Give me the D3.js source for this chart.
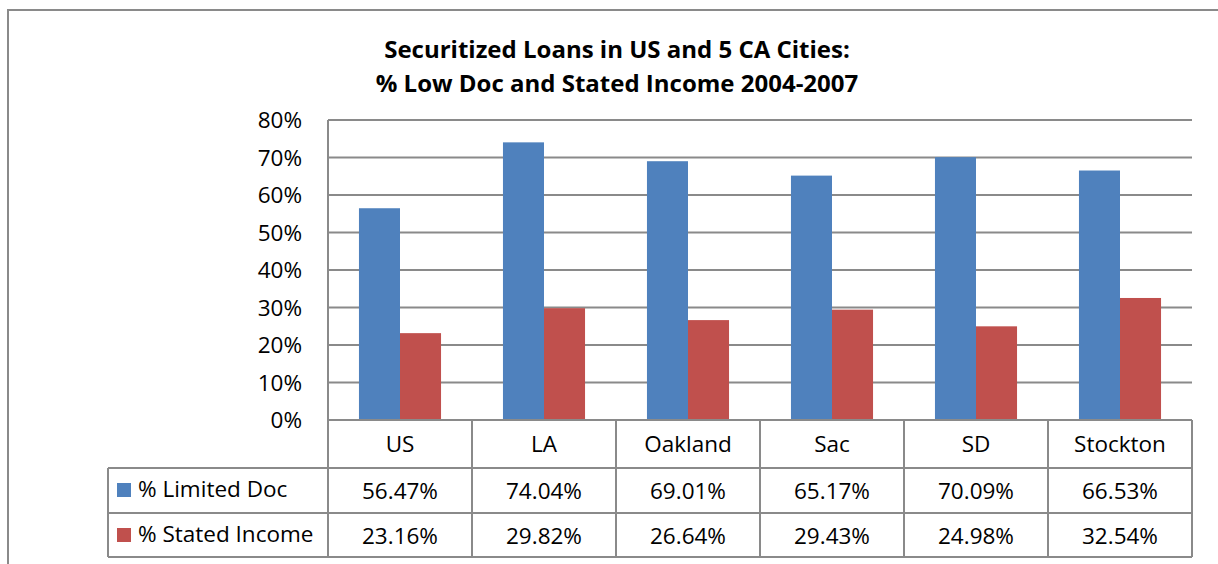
<!DOCTYPE html>
<html>
<head>
<meta charset="utf-8">
<script src="https://cdn.jsdelivr.net/npm/d3@7"></script>
<style>
  body { margin: 0; background: #fff; }
  svg { display: block; font-family: "Open Sans", Lato, sans-serif; }
</style>
</head>
<body>
<div id="chart"></div>
<script>
const categories = ["US", "LA", "Oakland", "Sac", "SD", "Stockton"];
const seriesNames = ["% Limited Doc", "% Stated Income"];
const limitedDoc = [56.47, 74.04, 69.01, 65.17, 70.09, 66.53];
const statedIncome = [23.16, 29.82, 26.64, 29.43, 24.98, 32.54];
const yTicks = [0, 10, 20, 30, 40, 50, 60, 70, 80];
const titleLines = ["Securitized Loans in US and 5 CA Cities:", "% Low Doc and Stated Income 2004-2007"];

const width = 1218;
const height = 564;
const plot = { left: 328, right: 1192, top: 120, bottom: 420 };
const tableLeft = 108;
const rowH = [48, 45, 44];
const colors = ["#4F81BD", "#C0504D"];
const lineColor = "#8a8a8a";
const fontSize = "22.5px";

let svg;

function configureChart() {
    svg = d3.select("#chart").append("svg")
        .attr("width", width)
        .attr("height", height);

    // outer chart border
    svg.append("rect")
        .attr("x", 8).attr("y", 10)
        .attr("width", 1240).attr("height", 700)
        .attr("fill", "#fff")
        .attr("stroke", lineColor)
        .attr("stroke-width", 2);
}

function drawChart() {
    const x = d3.scaleBand()
        .domain(categories)
        .range([plot.left, plot.right])
        .paddingInner(0.43)
        .paddingOuter(0.215);

    const xs = d3.scaleBand()
        .domain(seriesNames)
        .range([0, x.bandwidth()]);

    const y = d3.scaleLinear()
        .domain([0, 80])
        .range([plot.bottom, plot.top]);

    // title
    svg.append("g").selectAll("text")
        .data(titleLines)
        .join("text")
        .attr("x", 617)
        .attr("y", (d, i) => 58 + i * 34)
        .attr("text-anchor", "middle")
        .style("font-size", "24px")
        .style("font-weight", "bold")
        .text(d => d);

    // gridlines
    svg.append("g").selectAll("line")
        .data(yTicks.slice(1))
        .join("line")
        .attr("x1", plot.left).attr("x2", plot.right)
        .attr("y1", d => y(d)).attr("y2", d => y(d))
        .attr("stroke", lineColor)
        .attr("stroke-width", 2);

    // y axis labels
    svg.append("g").selectAll("text")
        .data(yTicks)
        .join("text")
        .attr("x", 302)
        .attr("y", d => y(d) + 8)
        .attr("text-anchor", "end")
        .style("font-size", fontSize)
        .text(d => d + "%");

    // bars
    const series = [limitedDoc, statedIncome];
    series.forEach((vals, si) => {
        svg.append("g").selectAll("rect")
            .data(vals)
            .join("rect")
            .attr("x", (d, i) => x(categories[i]) + xs(seriesNames[si]))
            .attr("y", d => y(d))
            .attr("width", xs.bandwidth())
            .attr("height", d => plot.bottom - y(d))
            .attr("fill", colors[si]);
    });

    // data table
    const t = svg.append("g").attr("class", "table");
    const r0 = plot.bottom;
    const r1 = r0 + rowH[0];
    const r2 = r1 + rowH[1];
    const r3 = r2 + rowH[2];

    // vertical lines (column boundaries)
    const bounds = categories.map(c => x(c) - x.step() * x.paddingInner() / 2);
    bounds.push(plot.right);
    t.selectAll("line.v")
        .data(bounds)
        .join("line")
        .attr("class", "v")
        .attr("x1", d => d).attr("x2", d => d)
        .attr("y1", (d, i) => i === 0 ? plot.top : r0)
        .attr("y2", r3)
        .attr("stroke", lineColor)
        .attr("stroke-width", 2);

    // horizontal lines
    t.selectAll("line.h")
        .data([r0, r1, r2, r3])
        .join("line")
        .attr("class", "h")
        .attr("x1", (d, i) => i === 0 ? plot.left : tableLeft)
        .attr("x2", plot.right)
        .attr("y1", d => d).attr("y2", d => d)
        .attr("stroke", lineColor)
        .attr("stroke-width", 2);

    t.append("line")
        .attr("x1", tableLeft).attr("x2", tableLeft)
        .attr("y1", r1).attr("y2", r3)
        .attr("stroke", lineColor)
        .attr("stroke-width", 2);

    // category labels
    t.selectAll("text.cat")
        .data(categories)
        .join("text")
        .attr("class", "cat")
        .attr("x", d => x(d) + x.bandwidth() / 2)
        .attr("y", r0 + 32)
        .attr("text-anchor", "middle")
        .style("font-size", fontSize)
        .text(d => d);

    // series rows
    const rowTops = [r1, r2];
    series.forEach((vals, si) => {
        const rowY = rowTops[si];
        t.append("rect")
            .attr("x", 117).attr("y", rowY + 15)
            .attr("width", 14).attr("height", 14)
            .attr("fill", colors[si]);
        t.append("text")
            .attr("x", 138)
            .attr("y", rowY + 29)
            .style("font-size", fontSize)
            .text(seriesNames[si]);
        t.append("g").selectAll("text")
            .data(vals)
            .join("text")
            .attr("x", (d, i) => x(categories[i]) + x.bandwidth() / 2)
            .attr("y", rowY + 31)
            .attr("text-anchor", "middle")
            .style("font-size", fontSize)
            .text(d => d.toFixed(2) + "%");
    });
}

configureChart();
drawChart();
</script>
</body>
</html>
